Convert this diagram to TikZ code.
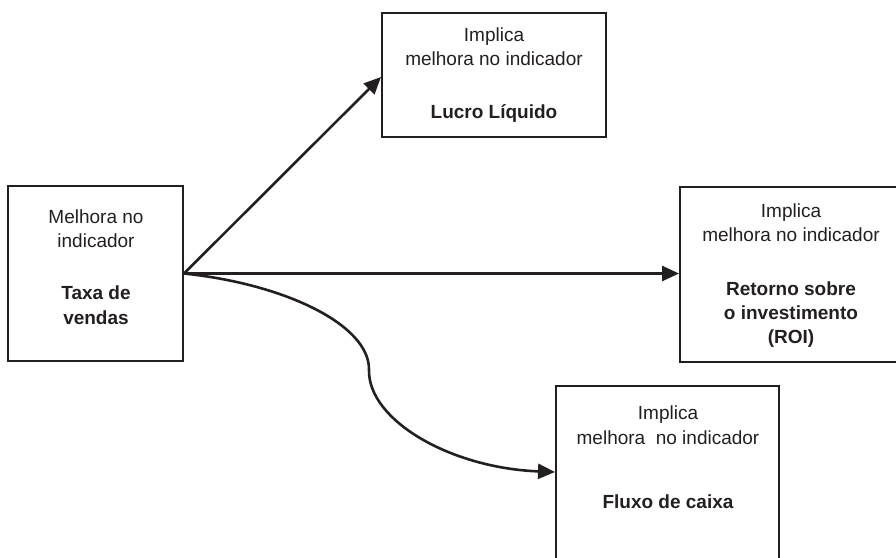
\documentclass[tikz,border=0pt]{standalone}
\usepackage{fontspec}
\setmainfont{Liberation Sans}
\usetikzlibrary{arrows.meta}
\definecolor{ink}{HTML}{231F20}
\begin{document}
\begin{tikzpicture}[x=1pt,y=-1pt,
  box/.style={draw=ink,line width=2pt,inner sep=0pt,rectangle},
  txt/.style={anchor=base,inner sep=0pt,text=ink,font=\fontsize{19}{23}\selectfont},
  btxt/.style={txt,font=\fontsize{19}{23}\selectfont\bfseries},
  link/.style={draw=ink,line width=2.6pt,-{Triangle[length=17pt,width=15pt]}}]
\useasboundingbox (0,0) rectangle (896,557);
\clip (0,0) rectangle (896,557);

% boxes
\node[box,minimum width=175pt,minimum height=175pt] (src) at (95.5,273.5) {};
\node[box,minimum width=224pt,minimum height=124pt] (lucro) at (494,75) {};
\node[box,minimum width=222pt,minimum height=175pt] (roi) at (791,274.5) {};
\node[box,minimum width=223pt,minimum height=184pt] (fluxo) at (667.5,478) {};

% source box text
\node[txt] (s1) at (96,223) {Melhora no};
\node[txt] (s2) at (96,247) {indicador};
\node[btxt] (s3) at (96,299) {Taxa de};
\node[btxt] (s4) at (96,324) {vendas};

% net profit box text
\node[txt] (l1) at (494,41) {Implica};
\node[txt] (l2) at (494,65) {melhora no indicador};
\node[btxt] (l3) at (494,118) {Lucro Líquido};

% ROI box text
\node[txt] (r1) at (791,217) {Implica};
\node[txt] (r2) at (791,241) {melhora no indicador};
\node[btxt] (r3) at (791,295) {Retorno sobre};
\node[btxt] (r4) at (791,319) {o investimento};
\node[btxt] (r5) at (791,343) {(ROI)};

% cash flow box text
\node[txt] (f1) at (668,419) {Implica};
\node[txt] (f2) at (668,444) {melhora\ \ no indicador};
\node[btxt] (f3) at (668,508) {Fluxo de caixa};

% connectors
\draw[link] (src.east) -- ([yshift=-2pt]lucro.west);
\draw[link] (src.east) -- (src.east -| roi.west);
\draw[link] (src.east) .. controls (285,284) and (370,325) .. (369,370)
  .. controls (368,420) and (450,468) .. ([yshift=6pt]fluxo.west);
\end{tikzpicture}
\end{document}
